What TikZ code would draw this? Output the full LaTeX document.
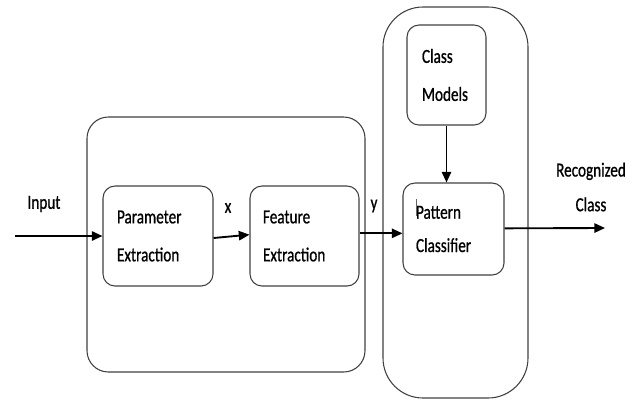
\documentclass[tikz,border=0pt]{standalone}
\usepackage{fontspec}
\setmainfont[FakeStretch=0.76,FakeBold=0.8]{Carlito}
\usetikzlibrary{arrows.meta}
\tikzset{
  group/.style={draw=black!75, line width=0.8pt, rounded corners=#1},
  blk/.style={draw=black!75, line width=0.8pt, rounded corners=9pt, align=left,
    inner sep=0pt, font=\fontsize{15}{28.5}\selectfont, text=black},
  lbl/.style={font=\fontsize{15}{27}\selectfont, text=black, inner sep=0pt},
  arr/.style={line width=1.4pt, -{Triangle[length=8pt,width=7pt]}}
}
\begin{document}
\begin{tikzpicture}[x=0.75pt,y=-0.75pt]
\useasboundingbox (0,0) rectangle (641,405);
% group frames
\draw[group=16pt] (87,117) rectangle (365,372);
\draw[group=30pt] (383,7) rectangle (528,398);
% blocks
\node[blk, minimum width=110*0.75pt, minimum height=100*0.75pt, text width=82*0.75pt] (pe) at (158,236) {Parameter\\Extraction};
\node[blk, minimum width=109*0.75pt, minimum height=100*0.75pt, text width=83*0.75pt] (fe) at (304.5,236) {Feature\\Extraction};
\node[blk, minimum width=79*0.75pt, minimum height=100*0.75pt, text width=49*0.75pt] (cm) at (446.5,75) {Class\\Models};
\node[blk, minimum width=101*0.75pt, minimum height=92*0.75pt, text width=75*0.75pt, font=\fontsize{15}{25}\selectfont] (pc) at (453.5,229) {Pattern\\Classifier};
% cursor artifact
\draw[black!60, line width=0.4pt] (416,199) -- (416,216);
% labels
\node[lbl] (lin) at (44,204) {Input};
\node[lbl] (lx) at (228,208) {x};
\node[lbl] (ly) at (374,206) {y};
\node[lbl, align=center, font=\fontsize{15}{26}\selectfont] (lout) at (591,187) {Recognized\\Class};
% connectors
\coordinate (in) at (15,236);
\coordinate (out) at (605,228);
\draw[arr] (in) -- (pe.west);
\draw[arr] ([yshift=-1.5pt]pe.east) -- ([yshift=1pt]fe.west);
\draw[arr] ([yshift=2pt]fe.east) -- ([yshift=2pt]fe.east -| pc.west);
\draw[arr] ([yshift=0.5pt]pc.east) -- (out);
\draw[arr] (cm.south) -- (cm.south |- pc.north);
\end{tikzpicture}
\end{document}
